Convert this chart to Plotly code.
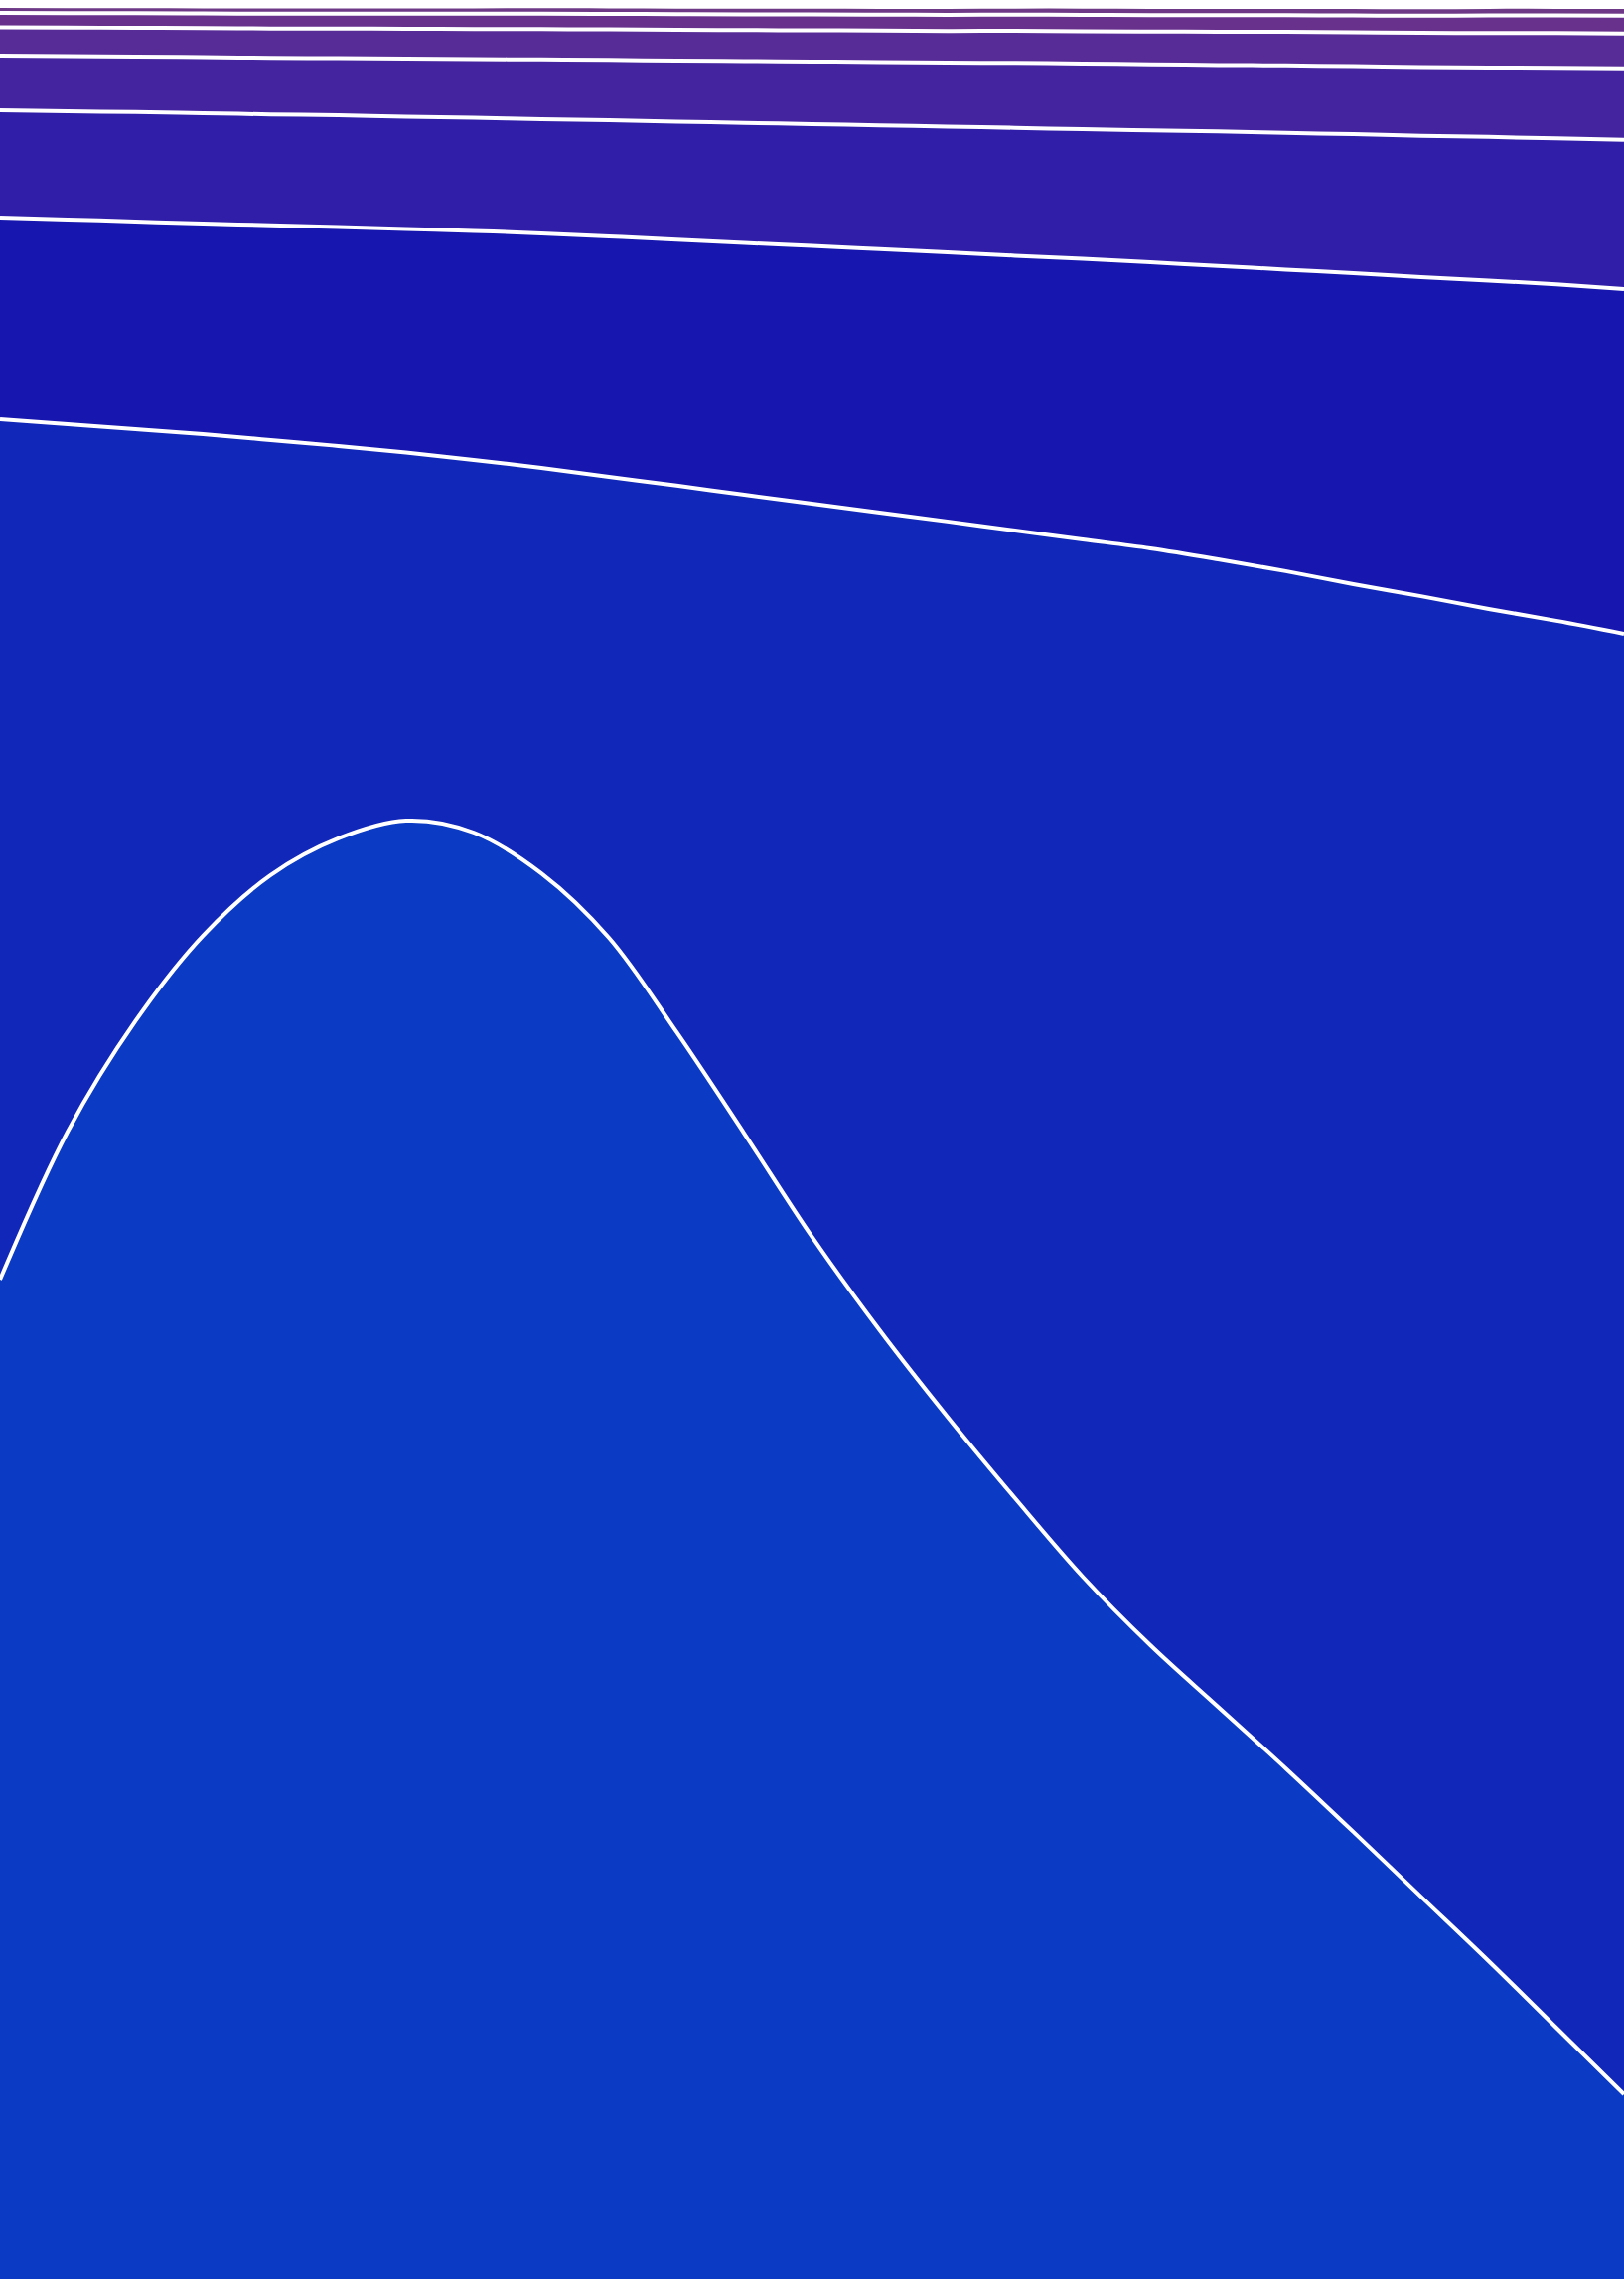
import plotly.graph_objects as go

# x positions (25 evenly spaced samples)
x_vals = list(range(25))

# Stacked series values (share of total, bottom -> top)
s1 = [43.85, 50.35, 55.19, 58.94, 61.60, 63.21, 63.99, 63.47, 61.68, 58.85, 54.71, 50.26, 45.73,
      41.63, 37.84, 34.26, 30.82, 27.81, 25.11, 22.41, 19.62, 16.78, 13.95, 11.03, 8.11]
s2 = [37.75, 31.04, 25.98, 22.01, 19.09, 17.22, 16.15, 16.35, 17.79, 20.23, 23.98, 28.03, 32.17,
      35.88, 39.28, 42.46, 45.51, 48.13, 50.35, 52.53, 54.75, 57.06, 59.33, 61.73, 64.08]
s3 = [8.85, 8.98, 9.11, 9.24, 9.43, 9.61, 9.81, 10.05, 10.29, 10.55, 10.79, 11.05, 11.31,
      11.56, 11.81, 12.06, 12.31, 12.55, 12.87, 13.23, 13.64, 14.00, 14.41, 14.76, 15.13]
s4 = [4.71, 4.75, 4.80, 4.84, 4.86, 4.90, 4.93, 4.96, 5.01, 5.09, 5.18, 5.27, 5.34,
      5.43, 5.51, 5.61, 5.69, 5.79, 5.90, 6.00, 6.10, 6.20, 6.30, 6.41, 6.54]
s5 = [2.40, 2.42, 2.44, 2.46, 2.48, 2.51, 2.55, 2.58, 2.62, 2.65, 2.68, 2.71, 2.75,
      2.78, 2.81, 2.85, 2.88, 2.90, 2.92, 2.96, 2.99, 3.02, 3.05, 3.10, 3.14]
s6 = [1.24, 1.25, 1.26, 1.28, 1.29, 1.30, 1.31, 1.32, 1.33, 1.34, 1.35, 1.36, 1.37,
      1.38, 1.39, 1.41, 1.42, 1.44, 1.46, 1.47, 1.48, 1.50, 1.51, 1.52, 1.53]
s7 = [0.63, 0.63, 0.64, 0.64, 0.65, 0.65, 0.66, 0.67, 0.68, 0.68, 0.69, 0.69, 0.70,
      0.70, 0.71, 0.71, 0.72, 0.72, 0.73, 0.73, 0.74, 0.75, 0.77, 0.77, 0.78]
s8 = [0.31, 0.31, 0.31, 0.31, 0.32, 0.32, 0.32, 0.32, 0.33, 0.33, 0.33, 0.34, 0.34,
      0.34, 0.35, 0.35, 0.36, 0.36, 0.36, 0.36, 0.37, 0.37, 0.38, 0.38, 0.39]

series = [s1, s2, s3, s4, s5, s6, s7, s8]
colors = ["#0b3ac4", "#1127b9", "#1716ae", "#301ea8", "#44249f", "#582c96", "#67318c", "#6e3987"]

fig = go.Figure()
for vals, col in zip(series, colors):
    fig.add_trace(go.Scatter(
        x=x_vals, y=vals, mode="lines", stackgroup="one",
        line=dict(color="white", width=4, shape="spline", smoothing=1),
        fillcolor=col, hoverinfo="skip", showlegend=False,
    ))

fig.update_layout(
    width=1635, height=2294, autosize=False,
    margin=dict(l=0, r=0, t=0, b=0, pad=0),
    paper_bgcolor="white", plot_bgcolor="white",
    showlegend=False,
    xaxis=dict(visible=False, range=[0, 24], showgrid=False, zeroline=False),
    yaxis=dict(visible=False, range=[0, 100], showgrid=False, zeroline=False),
)

fig.write_html(
    "out.html",
    config={"displayModeBar": False},
    post_script="document.body.style.margin='0';document.body.style.padding='0';document.body.style.overflow='hidden';",
)
